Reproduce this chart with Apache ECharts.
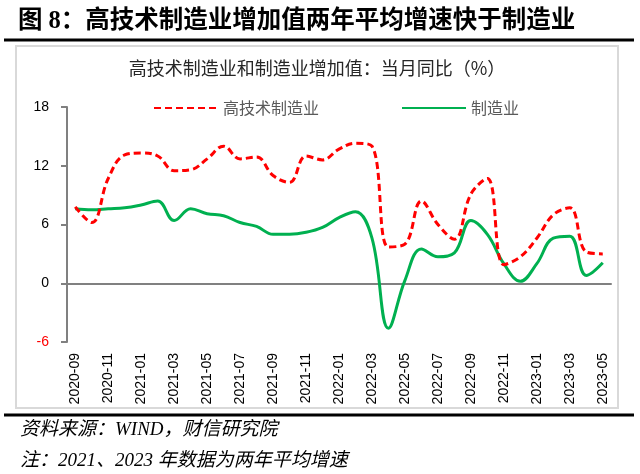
<!DOCTYPE html>
<html>
<head>
<meta charset="utf-8">
<script src="https://cdn.jsdelivr.net/npm/echarts@6/dist/echarts.min.js"></script>
<style>
  html, body { margin: 0; padding: 0; background: #fff; }
  #chart { width: 640px; height: 474px; }
</style>
</head>
<body>
<div id="chart"></div>
<script>
// monthly categories, 2020-09 .. 2023-05
var months = [
  '2020-09', '2020-10', '2020-11', '2020-12', '2021-01', '2021-02', '2021-03', '2021-04',
  '2021-05', '2021-06', '2021-07', '2021-08', '2021-09', '2021-10', '2021-11', '2021-12',
  '2022-01', '2022-02', '2022-03', '2022-04', '2022-05', '2022-06', '2022-07', '2022-08',
  '2022-09', '2022-10', '2022-11', '2022-12', '2023-01', '2023-02', '2023-03', '2023-04',
  '2023-05'
];
// 高技术制造业 (%)
var hiTech = [
  7.8, 6.2, 10.7, 13.1, 13.3, 13.0, 11.5, 11.6,
  12.7, 14.0, 12.7, 12.9, 11.0, 10.3, 13.0, 12.6,
  13.7, 14.3, 14.0, 3.7, 4.0, 8.4, 6.0, 4.5,
  9.1, 10.7, 1.9, 2.7, 4.6, 7.0, 7.7, 3.2,
  3.0
];
// 制造业 (%)
var mfg = [
  7.6, 7.5, 7.6, 7.7, 8.0, 8.4, 6.4, 7.6,
  7.1, 6.9, 6.2, 5.8, 5.0, 5.0, 5.2, 5.7,
  6.7, 7.3, 4.6, -4.6, 0.3, 3.5, 2.7, 3.1,
  6.4, 5.0, 2.0, 0.2, 2.0, 4.6, 4.8, 0.8,
  2.1
];
var yMin = -6, yMax = 18, yStep = 6;

var cjk = '"Noto Sans CJK SC"';
var axisGray = '#808080';

var myChart = echarts.init(document.getElementById('chart'));

var option = {
  animation: false,
  graphic: [
    {
      type: 'text', left: 18, top: 9,
      style: { text: '图 8：高技术制造业增加值两年平均增速快于制造业',
               font: 'bold 24.5px "Liberation Serif", ' + cjk, fill: '#000' }
    },
    {
      type: 'line', shape: { x1: 4, y1: 40, x2: 634, y2: 40 },
      style: { stroke: '#000', lineWidth: 3 }
    },
    {
      type: 'rect', shape: { x: 16, y: 46, width: 602, height: 362 },
      style: { fill: 'none', stroke: '#d9d9d9', lineWidth: 2 }
    },
    {
      type: 'text', x: 317, y: 68,
      style: { text: '高技术制造业和制造业增加值：当月同比（%）',
               font: '18px ' + cjk, fill: '#262626',
               textAlign: 'center', textVerticalAlign: 'middle' }
    },
    {
      type: 'line', shape: { x1: 4, y1: 415, x2: 634, y2: 415 },
      style: { stroke: '#000', lineWidth: 3 }
    },
    {
      type: 'text', x: 20, y: 430,
      style: { text: '资料来源：WIND，财信研究院',
               font: 'italic 19px "Liberation Serif", ' + cjk, fill: '#000',
               textVerticalAlign: 'middle' }
    },
    {
      type: 'text', x: 20, y: 461,
      style: { text: '注：2021、2023 年数据为两年平均增速',
               font: 'italic 19px "Liberation Serif", ' + cjk, fill: '#000',
               textVerticalAlign: 'middle' }
    }
  ],
  legend: {
    left: 148, top: 95,
    itemWidth: 64, itemHeight: 14, itemGap: 82,
    data: ['高技术制造业', '制造业'],
    itemStyle: { opacity: 0 },
    textStyle: { fontSize: 16, color: '#595959', fontFamily: cjk }
  },
  grid: { left: 67, right: 29, top: 107, bottom: 132 },
  xAxis: [
    {
      type: 'category',
      data: months,
      boundaryGap: true,
      axisLine: { onZero: true, lineStyle: { color: axisGray, width: 2 } },
      axisTick: { interval: 1, length: 5, lineStyle: { color: axisGray, width: 2 } },
      axisLabel: { show: false }
    },
    {
      type: 'category',
      data: months,
      position: 'bottom',
      boundaryGap: true,
      axisLine: { show: false, onZero: false },
      axisTick: { show: false },
      axisLabel: {
        interval: 1, rotate: 90, margin: 11,
        fontSize: 14, color: '#000', fontFamily: 'Liberation Sans'
      }
    }
  ],
  yAxis: {
    type: 'value',
    min: yMin, max: yMax, interval: yStep,
    axisLine: { show: true, lineStyle: { color: axisGray, width: 2 } },
    axisTick: { show: true, length: 6, lineStyle: { color: axisGray, width: 2 } },
    splitLine: { show: false },
    axisLabel: {
      margin: 18, fontSize: 14, fontFamily: 'Liberation Sans',
      color: function (v) { return v < 0 ? '#ff0000' : '#000'; }
    }
  },
  series: [
    {
      name: '制造业',
      type: 'line',
      data: mfg,
      smooth: 0.4,
      symbol: 'none',
      itemStyle: { color: '#00b050' },
      lineStyle: { color: '#00b050', width: 3 }
    },
    {
      name: '高技术制造业',
      type: 'line',
      data: hiTech,
      smooth: 0.4,
      symbol: 'none',
      itemStyle: { color: '#ff0000' },
      lineStyle: { color: '#ff0000', width: 3, type: [7, 4] }
    }
  ]
};

myChart.setOption(option);
window.onresize = function () {
  myChart.resize();
};
</script>
</body>
</html>
